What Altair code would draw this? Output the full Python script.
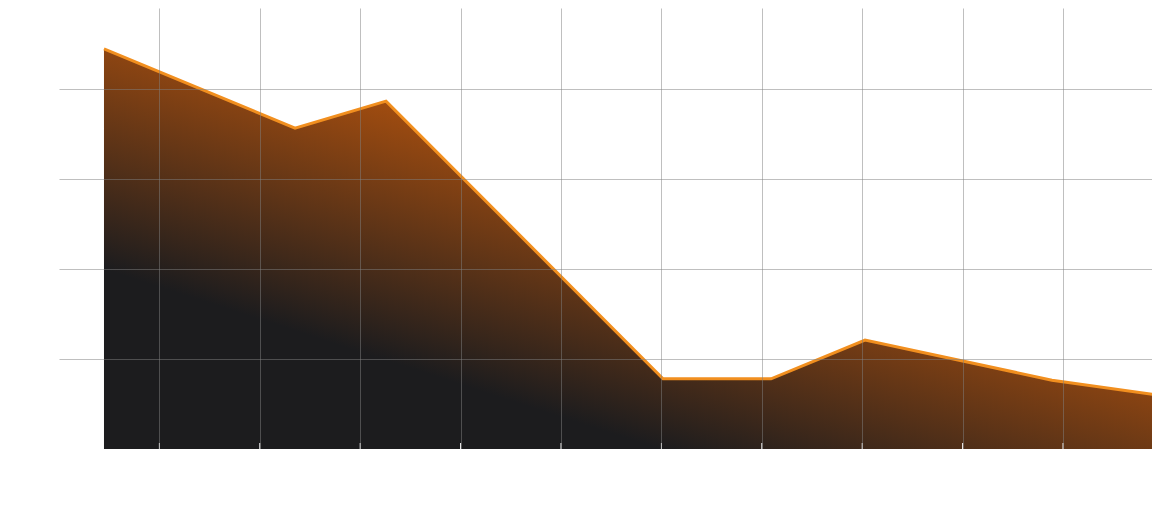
import altair as alt
import pandas as pd

# Data
xs = [0.448, 2.351, 3.257, 6.016, 7.092, 8.028, 9.890, 10.936]
ys = [88.9, 71.3, 77.3, 15.6, 15.6, 24.2, 15.3, 12.0]
x_ticks = [1, 2, 3, 4, 5, 6, 7, 8, 9, 10]
y_ticks = [20, 40, 60, 80]

df = pd.DataFrame({"x": xs, "y": ys})
ticks_df = pd.DataFrame({"x": x_ticks})

x_scale = alt.Scale(domain=[0, 10.886], nice=False, zero=False)
y_scale = alt.Scale(domain=[0, 98], nice=False)

x_enc = alt.X("x:Q", scale=x_scale,
              axis=alt.Axis(values=x_ticks, labels=False, title=None, domain=False,
                            ticks=False, grid=True, gridColor="#808080", gridOpacity=0.5,
                            gridWidth=1, zindex=1))
y_enc = alt.Y("y:Q", scale=y_scale,
              axis=alt.Axis(values=y_ticks, labels=False, title=None, domain=False,
                            ticks=False, grid=True, gridColor="#808080", gridOpacity=0.5,
                            gridWidth=1, zindex=1))

grad = alt.Gradient(
    gradient="linear",
    x1=0, y1=1, x2=0.6, y2=0.296,
    stops=[
        alt.GradientStop(offset=0, color="#1c1c1e"),
        alt.GradientStop(offset=0.37, color="#1c1c1e"),
        alt.GradientStop(offset=1, color="#b9550d"),
    ],
)

area = alt.Chart(df).mark_area(color=grad, interpolate="linear").encode(x=x_enc, y=y_enc)
line = alt.Chart(df).mark_line(color="#f18f1f", strokeWidth=3, interpolate="linear").encode(
    x=alt.X("x:Q", scale=x_scale), y=alt.Y("y:Q", scale=y_scale))
tick_marks = alt.Chart(ticks_df).mark_tick(color="#ffffff", opacity=1, thickness=1, size=6,
                                           orient="vertical").encode(
    x=alt.X("x:Q", scale=x_scale), y=alt.value(438))

chart = (area + line + tick_marks).properties(
    width=1093, height=441,
    autosize=alt.AutoSizeParams(type="none"),
    padding={"left": 51, "top": 0, "right": 0, "bottom": 0},
    background="#ffffff",
).configure_view(stroke=None)

chart.save("out.html", embed_options={"renderer": "svg", "actions": False})
